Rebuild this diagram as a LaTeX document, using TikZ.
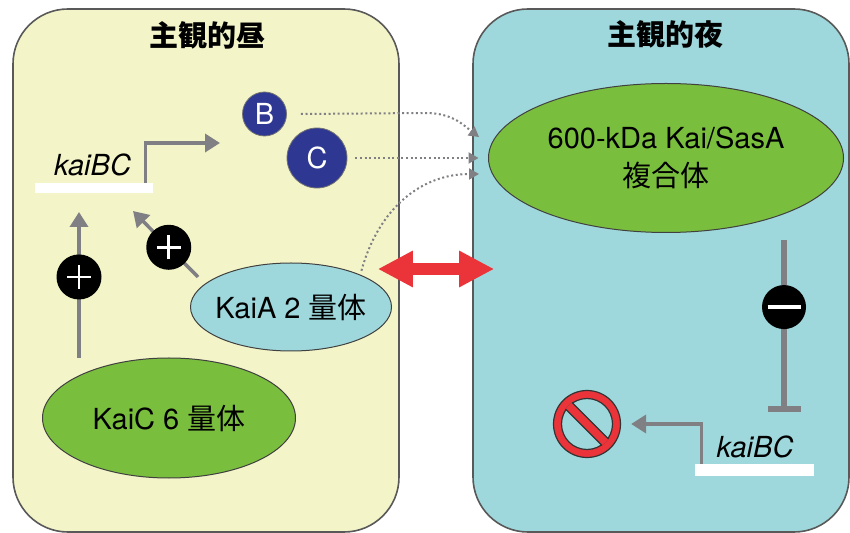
\documentclass[tikz,border=0pt]{standalone}
\usepackage{fontspec}
\setmainfont{TeX Gyre Heros}
\newfontfamily\jafont{Noto Sans CJK JP}
\newcommand{\ja}[1]{{\jafont #1}}
\usetikzlibrary{arrows.meta,shapes.geometric}
\definecolor{Y4}{RGB}{243,244,200}
\definecolor{T4}{RGB}{158,216,220}
\definecolor{G4}{RGB}{122,190,62}
\definecolor{B4}{RGB}{46,56,146}
\definecolor{K4}{RGB}{128,128,132}
\definecolor{R4}{RGB}{234,52,58}

\begin{document}
\begin{tikzpicture}[x=0.5pt, y=-0.5pt, font=\fontsize{14.5}{19}\selectfont,
    panel/.style={draw=black!65, line width=0.8pt, rounded corners=27.5pt, minimum height=261.5pt, inner sep=0pt},
    headtext/.style={font=\fontsize{14.5}{19}\selectfont\jafont\bfseries},
    genebar/.style={fill=white, inner sep=0pt},
    genename/.style={font=\fontsize{14.5}{19}\selectfont\itshape, inner sep=0pt},
    protein/.style={circle, fill=B4, draw=black!55, line width=0.4pt, text=white, inner sep=0pt},
    complex/.style={ellipse, draw=black!75, line width=0.5pt, inner sep=0pt, inner xsep=-4pt},
    genearrow/.style={draw=K4, line width=1.75pt, -{Triangle[length=7.5pt,width=9pt]}},
    signal/.style={draw=K4, line width=1pt, dash pattern=on 1pt off 1.3pt, -{Triangle[length=5pt,width=5.5pt]}},
    block/.style={draw=K4, line width=3pt, -{Bar[width=16.5pt]}},
    swap/.style={draw=R4, fill=R4, line width=6pt, {Triangle[length=17.5pt,width=17pt]}-{Triangle[length=17.5pt,width=17pt]}},
    plussign/.style={circle, fill=black, draw=none, minimum size=22.5pt, inner sep=0pt,
      path picture={\draw[white, line width=1.4pt, -, solid]
        ([xshift=-6pt]path picture bounding box.center) -- ([xshift=6pt]path picture bounding box.center)
        ([yshift=-6pt]path picture bounding box.center) -- ([yshift=6pt]path picture bounding box.center);}},
    minussign/.style={circle, fill=black, draw=none, minimum size=22pt, inner sep=0pt,
      path picture={\draw[white, line width=2pt, -, solid]
        ([xshift=-8.25pt]path picture bounding box.center) -- ([xshift=8.25pt]path picture bounding box.center);}},
    stopsign/.style={circle, fill=R4, draw=black!80, line width=0.6pt, minimum size=33.5pt, inner sep=0pt}]
  \useasboundingbox (0,0) rectangle (850,533);

  % day / night panels
  \node[panel, fill=Y4, minimum width=193pt] (day) at (206,270.5) {};
  \node[panel, fill=T4, minimum width=188pt] (night) at (661,270.5) {};
  \node[headtext] (daytitle) at (207,35) {主観的昼};
  \node[headtext] (nighttitle) at (665,34) {主観的夜};

  % genes
  \node[genebar, minimum width=59pt, minimum height=5pt] (geneday) at (94,188) {};
  \node[genename, anchor=base] (kaibcday) at (92.5,176) {kaiBC};
  \node[genebar, minimum width=59.5pt, minimum height=6pt] (genenight) at (754.5,470) {};
  \node[genename, anchor=base] (kaibcnight) at (755,458) {kaiBC};

  % proteins
  \node[protein, minimum size=22pt] (kaib) at (264.5,114) {B};
  \node[protein, minimum size=30pt] (kaic) at (317,158) {C};
  \node[complex, fill=T4, minimum width=100.5pt, minimum height=44pt] (kaia) at (291,307) {KaiA 2 \ja{量体}};
  \node[complex, fill=G4, minimum width=126.5pt, minimum height=60pt] (kaichex) at (169,418) {KaiC 6 \ja{量体}};
  \node[complex, fill=G4, minimum width=177.5pt, minimum height=74.5pt, align=center] (kaisasa) at (666,158) {600-kDa Kai/SasA\\\ja{複合体}};

  % free ends
  \coordinate (kaictop) at (79,358);
  \coordinate (uptip) at (79,212);
  \coordinate (kaiaout) at (198,277);
  \coordinate (slanttip) at (133,211);
  \coordinate (prodtip) at (220,143);
  \coordinate (intob) at (479,137);
  \coordinate (intoa) at (479,174);
  \coordinate (inhtop) at (784,240);
  \coordinate (inhend) at (784,412);

  % activation (day)
  \draw[genearrow] (kaictop) -- node[plussign, pos=0.555] (plusa) {} (uptip);
  \draw[genearrow] (kaiaout) -- node[plussign, pos=0.45] (plusb) {} (slanttip);
  \draw[genearrow] ([xshift=-4pt]geneday.north east) |- (prodtip);

  % into the complex
  \draw[signal] ([xshift=7pt]kaib.east) -- (425,113) .. controls (452,113) and (462,124) .. (intob);
  \draw[signal] ([xshift=4pt]kaic.east) -- ([xshift=-4.75pt]kaisasa.west);
  \draw[signal, shorten <=2pt] (kaia.25) .. controls (378,210) and (420,174) .. (intoa);

  \draw[swap] ([xshift=-11pt,yshift=0.75pt]day.east) -- ([xshift=11pt,yshift=0.75pt]night.west);

  % repression (night)
  \draw[block] (inhtop) -- node[minussign, pos=0.39] (minus) {} (inhend);
  \node[stopsign] (stop) at (587,424) {};
  \fill[T4, draw=black!80, line width=0.6pt] (stop.center) circle[radius=12.75pt];
  \begin{scope}
    \clip (stop.center) circle[radius=13.1pt];
    \draw[fill=R4, draw=black!80, line width=0.6pt, rotate around={-45:(stop.center)}]
      ([shift={(-15pt,-2.3pt)}]stop.center) rectangle ([shift={(15pt,2.3pt)}]stop.center);
  \end{scope}
  \draw[genearrow] ([xshift=3.5pt]genenight.north west) |- ([xshift=5pt]stop.east);
\end{tikzpicture}
\end{document}
